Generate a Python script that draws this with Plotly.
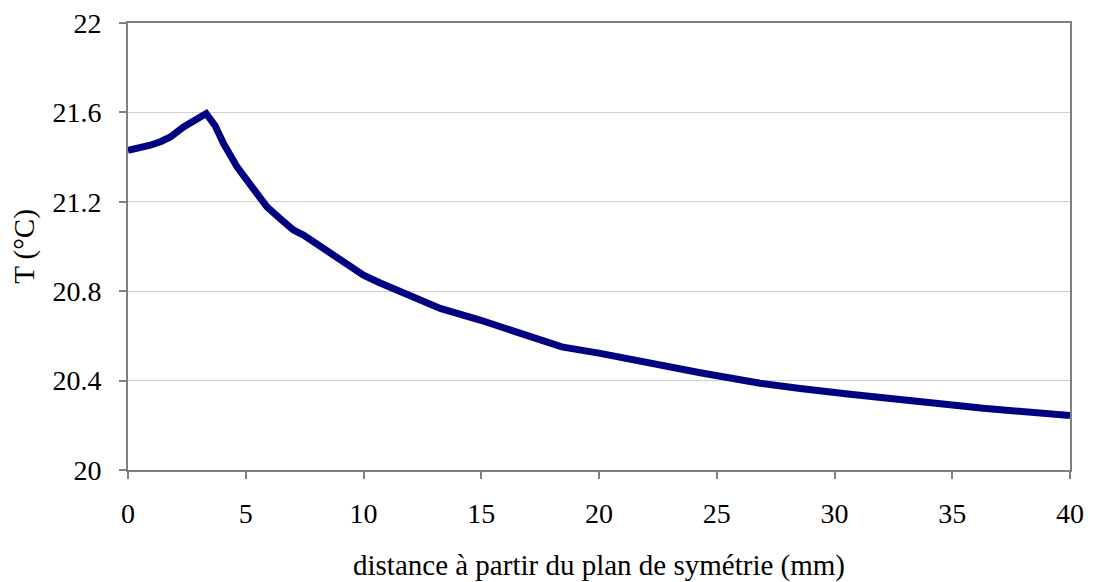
import plotly.graph_objects as go

# distance from symmetry plane (mm) and temperature (deg C)
distance = [0.0, 0.5, 0.95, 1.4, 1.8, 2.36, 2.85, 3.32, 3.7, 4.06, 4.63, 5.33, 5.9,
            6.46, 7.03, 7.45, 8.3, 9.15, 10.0, 10.71, 11.98, 13.26, 14.95, 15.8,
            16.65, 17.64, 18.42, 20.05, 22.17, 24.3, 26.84, 27.83, 28.54, 30.66,
            33.49, 36.32, 40.0]
temperature = [21.43, 21.44, 21.453, 21.47, 21.49, 21.535, 21.565, 21.595, 21.54,
               21.46, 21.356, 21.252, 21.177, 21.125, 21.073, 21.051, 20.99, 20.924,
               20.872, 20.837, 20.782, 20.723, 20.671, 20.641, 20.611, 20.581,
               20.551, 20.522, 20.477, 20.435, 20.388, 20.372, 20.365, 20.339,
               20.305, 20.276, 20.244]

x_ticks = [0, 5, 10, 15, 20, 25, 30, 35, 40]
y_ticks = [20, 20.4, 20.8, 21.2, 21.6, 22]
y_labels = ["20", "20.4", "20.8", "21.2", "21.6", "22"]

serif = "Liberation Serif, Times New Roman, serif"
tick_font = dict(family=serif, size=28, color="black")
title_font = dict(family=serif, size=29, color="black")

fig = go.Figure()
fig.add_trace(go.Scatter(x=distance, y=temperature, mode="lines",
                         line=dict(color="#000080", width=7), showlegend=False,
                         cliponaxis=True))

# page body has an 8px margin, so the figure is a bit smaller than the window
fig.update_layout(
    width=1085, height=574,
    margin=dict(l=120, r=23, t=15, b=112, autoexpand=False),
    paper_bgcolor="white", plot_bgcolor="white",
    font=tick_font,
)
fig.update_xaxes(
    range=[0, 40], tickvals=x_ticks, showgrid=False, zeroline=False,
    showline=True, linecolor="#808080", linewidth=2, mirror=True,
    ticks="outside", ticklen=7, tickcolor="#808080", tickwidth=1.5,
    tickfont=tick_font, ticklabelstandoff=10, automargin=False,
    ticklabeloverflow="allow",
    title=dict(text="distance à partir du plan de symétrie (mm)", font=title_font, standoff=27),
)
fig.update_yaxes(
    range=[20, 22], tickvals=y_ticks, ticktext=y_labels,
    showgrid=True, gridcolor="#d0d0d0", gridwidth=1, zeroline=False,
    showline=True, linecolor="#808080", linewidth=2, mirror=True,
    ticks="outside", ticklen=7, tickcolor="#808080", tickwidth=1.5,
    tickfont=tick_font, ticklabelstandoff=12, automargin=False,
    ticklabeloverflow="allow",
    title=dict(text="T (°C)", font=title_font, standoff=14),
)

fig.write_html("out.html")
